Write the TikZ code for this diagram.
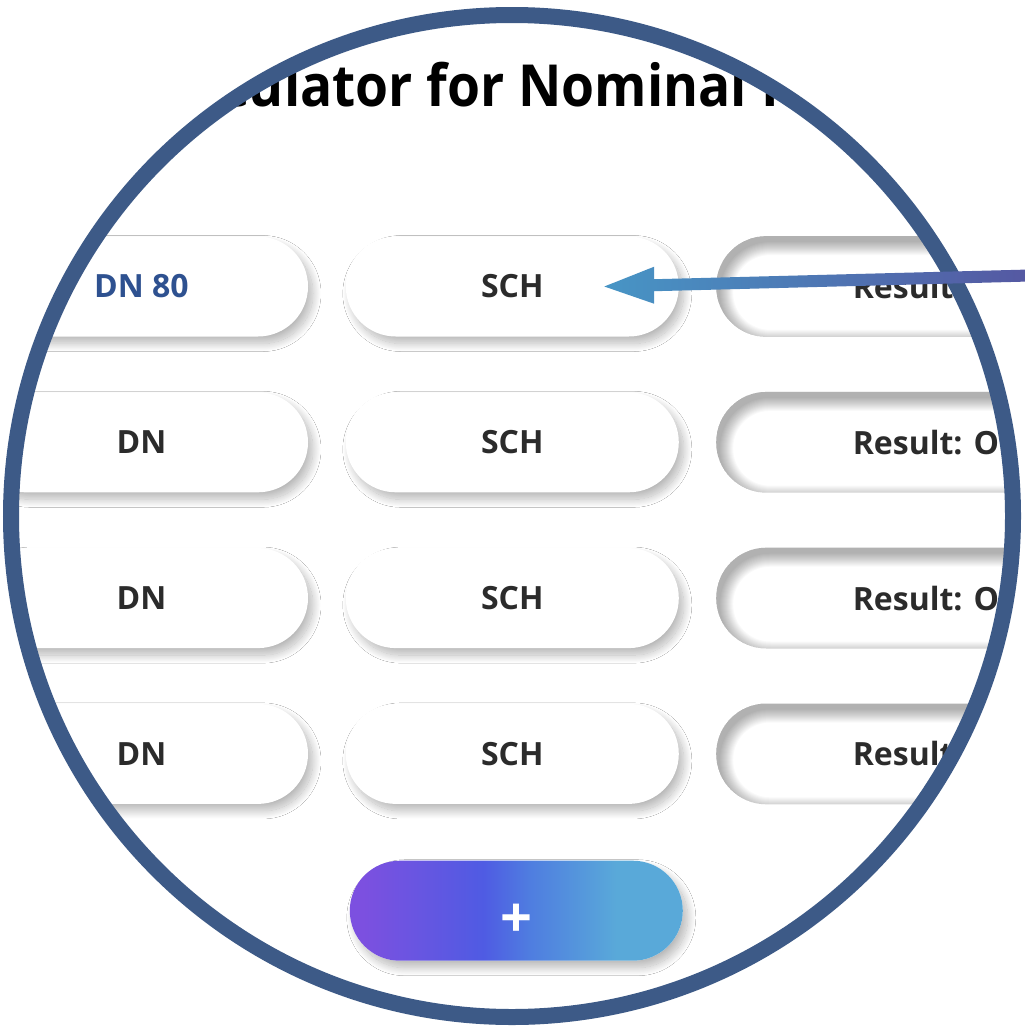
\documentclass[tikz,border=0pt]{standalone}
\usepackage{fontspec}
\setmainfont{Open Sans}
\newfontfamily\titlefont{Open Sans}[FakeStretch=0.92]
\usetikzlibrary{positioning,calc,shadows.blur}

\definecolor{ringblue}{HTML}{3D5A87}
\definecolor{textdark}{HTML}{2B2B2B}
\definecolor{dnblue}{HTML}{2E5190}
\definecolor{addpurple}{HTML}{7C50E0}
\definecolor{addviolet}{HTML}{6656E1}
\definecolor{addblue}{HTML}{4F5BE3}
\definecolor{addmid}{HTML}{4F7DE0}
\definecolor{addlight}{HTML}{59A9D9}
\definecolor{arrowtip}{HTML}{4795C5}
\definecolor{arrowtail}{HTML}{5558A2}

\pgfdeclarehorizontalshading{addgrad}{100bp}{color(0bp)=(addpurple); color(27bp)=(addpurple); color(36bp)=(addviolet); color(45bp)=(addblue); color(52bp)=(addmid); color(65bp)=(addlight); color(100bp)=(addlight)}

\begin{document}
\begin{tikzpicture}[x=0.5pt,y=-0.5pt,node distance=27.5pt and 18.5pt,
  pill/.style={rectangle,rounded corners=25pt,minimum width=166.5pt,minimum height=50pt,
    fill=white,text=textdark,font=\fontsize{16}{19}\selectfont\bfseries},
  raised/.style={pill,blur shadow={shadow xshift=2.5pt,shadow yshift=-3.5pt,
    shadow blur radius=4pt,shadow blur steps=20,shadow opacity=28}},
  sunken/.style={pill,minimum width=220pt}]

\useasboundingbox (0,0) rectangle (1024,1028);
\fill[white] (0,0) rectangle (1024,1028);

\begin{scope}
\clip (512,516) circle [radius=508];

\node[anchor=base west,font=\titlefont\fontsize{29}{34}\selectfont\bfseries](title) at (132,106){Calculator for Nominal Pipe Size};

\node[raised,text=dnblue](dn1) at (141.5,286.5){DN 80};
\node[raised](sch1)[right=of dn1]{SCH};
\node[sunken](res1)[right=of sch1]{Result: OK};
\node[raised](dn2)[below=of dn1]{DN};
\node[raised](sch2)[right=of dn2]{SCH};
\node[sunken](res2)[right=of sch2]{Result: OK};
\node[raised](dn3)[below=of dn2]{DN};
\node[raised](sch3)[right=of dn3]{SCH};
\node[sunken](res3)[right=of sch3]{Result: OK};
\node[raised](dn4)[below=of dn3]{DN};
\node[raised](sch4)[right=of dn4]{SCH};
\node[sunken](res4)[right=of sch4]{Result: OK};

\node[raised,shading=addgrad,text=white,font=\fontsize{28}{30}\selectfont\bfseries,text height=27pt,text depth=0pt](add)[below=28pt of sch4,xshift=2pt]{+};

% inner shadow of the result fields
\foreach \r in {1,...,4}{
  \begin{scope}
  \clip[rounded corners=25pt](res\r.south west) rectangle (res\r.north east);
  \foreach \k [evaluate=\k as \rc using 25-0.5*\k] in {0,...,13}
    \fill[black,opacity=0.022,even odd rule,rounded corners=\rc pt]
      ([shift={(-30,-30)}]res\r.north west) rectangle ([shift={(30,30)}]res\r.south east)
      ([shift={(4+\k,6+\k)}]res\r.north west) rectangle ([shift={(4-\k,6-\k)}]res\r.south east);
  \end{scope}}
\end{scope}

\draw[ringblue,line width=8pt] (512,516) circle [radius=501];

% pointer to the schedule field
\coordinate (tip) at ([xshift=46pt]sch1.center);
\coordinate (tail) at (1030,275.5);
\coordinate (neck) at ($(tip)!0.117!(tail)$);
\shade[left color=arrowtip,right color=arrowtail]
  (tip) -- ($(neck)+(0,-18.5)$) -- ($(neck)+(0,-6)$) -- ($(tail)+(0,-6)$)
  -- ($(tail)+(0,6)$) -- ($(neck)+(0,6)$) -- ($(neck)+(0,18.5)$) -- cycle;

\end{tikzpicture}
\end{document}
